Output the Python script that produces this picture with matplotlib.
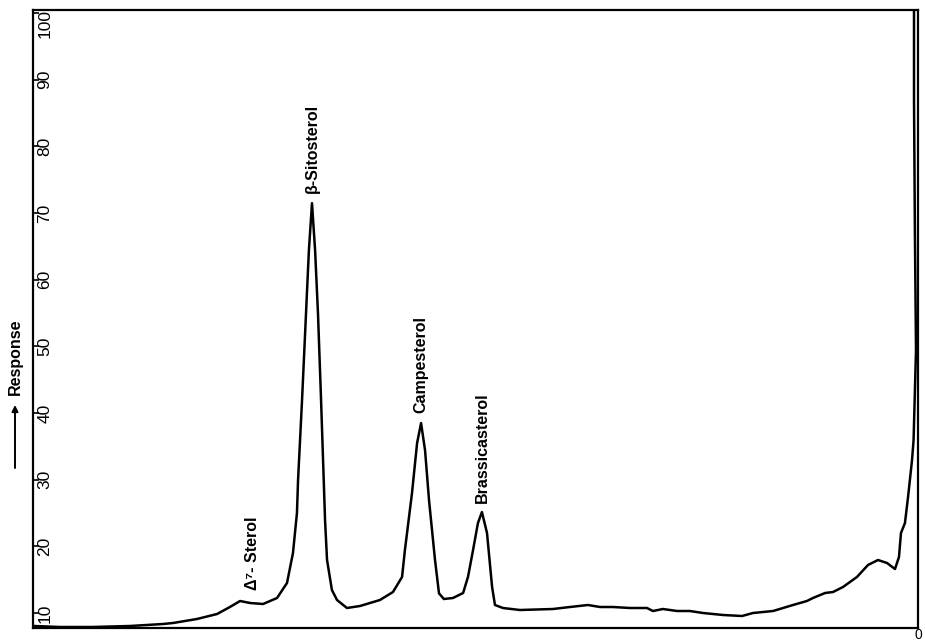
import matplotlib
matplotlib.use("Agg")
import matplotlib.pyplot as plt
import matplotlib.transforms as mtransforms

plt.rcParams['font.family'] = ['Liberation Sans', 'DejaVu Sans']

# Retention time (arbitrary units, injection at 0 on the right) and detector response
time = [39.95, 38.78, 37.33, 35.62, 34.12, 33.67, 32.59, 31.68, 31.10, 30.64,
        30.19, 29.60, 28.97, 28.52, 28.25, 28.07, 28.02, 27.84, 27.66, 27.53,
        27.39, 27.25, 27.12, 26.98, 26.89, 26.80, 26.71, 26.49, 26.26, 25.81,
        25.22, 24.32, 23.73, 23.32, 23.19, 22.87, 22.64, 22.46, 22.28, 22.10,
        21.83, 21.65, 21.43, 21.02, 20.56, 20.34, 20.11, 19.89, 19.71, 19.48,
        19.25, 19.12, 18.76, 17.99, 16.50, 15.73, 14.92, 14.37, 13.79, 13.02,
        12.25, 11.98, 11.53, 10.89, 10.31, 9.72, 8.81, 7.95, 7.46, 6.55,
        5.65, 5.02, 4.75, 4.20, 3.84, 3.39, 2.76, 2.26, 1.81, 1.40,
        1.04, 0.86, 0.77, 0.59, 0.45, 0.27, 0.20, 0.09, 0.14, 0.18, 0.18]
response = [8.05, 7.90, 7.90, 8.05, 8.35, 8.50, 9.10, 9.85, 10.90, 11.80,
            11.50, 11.35, 12.25, 14.50, 19.00, 25.00, 29.94, 41.93, 54.98, 64.42,
            71.47, 64.42, 54.98, 41.93, 32.94, 23.94, 17.95, 13.45, 11.95, 10.75,
            11.05, 11.95, 13.15, 15.40, 19.45, 28.00, 35.49, 38.49, 34.40, 26.90,
            17.95, 12.95, 12.10, 12.25, 13.00, 15.40, 19.45, 23.49, 25.14, 22.00,
            13.90, 11.20, 10.75, 10.45, 10.60, 10.90, 11.20, 10.90, 10.90, 10.75,
            10.75, 10.30, 10.60, 10.30, 10.30, 10.00, 9.70, 9.55, 10.00, 10.30,
            11.20, 11.80, 12.25, 13.00, 13.15, 13.90, 15.40, 17.20, 17.95, 17.50,
            16.60, 18.40, 22.00, 23.49, 27.39, 32.94, 35.94, 49.43, 66.97, 86.91, 104.0]

y_ticks = [10, 20, 30, 40, 50, 60, 70, 80, 90, 100]
y_tick_labels = ["10", "20", "30", "40", "50", "60", "70", "80", "90", "100"]

peak_names = ["Δ⁷- Sterol", "β-Sitosterol", "Campesterol", "Brassicasterol"]
peak_times = [30.10, 27.39, 22.46, 19.71]
peak_label_bottoms = [13.45, 73.0, 40.0, 26.5]

fig = plt.figure(figsize=(9.25, 6.42), dpi=100)
ax = fig.add_axes([33/925, 1 - 628/642, (918 - 33)/925, (628 - 10)/642])

ax.plot(time, response, color='black', lw=1.8, solid_joinstyle='round', clip_on=True)

ax.set_xlim(40.0, 0.0)
ax.set_ylim(7.75, 100.45)

for sp in ax.spines.values():
    sp.set_linewidth(1.6)

ax.set_xticks([0])
ax.set_xticklabels(["0"], fontsize=10)
ax.tick_params(axis='x', length=0, pad=0)

ax.set_yticks(y_ticks)
ax.set_yticklabels([])
ax.tick_params(axis='y', direction='in', length=4, width=1.2)

offset = mtransforms.ScaledTranslation(12/100, 0, fig.dpi_scale_trans)
trans = mtransforms.blended_transform_factory(ax.transAxes, ax.transData) + offset
for v, lab in zip(y_ticks, y_tick_labels):
    va = 'top' if v == 100 else 'center'
    yv = v + 0.6 if v == 100 else v
    ax.text(0, yv, lab, transform=trans, rotation=90, ha='center', va=va,
            fontsize=12.5, clip_on=False)

for name, t, b in zip(peak_names, peak_times, peak_label_bottoms):
    ax.text(t, b, name, rotation=90, ha='center', va='bottom', fontsize=11.5,
            fontweight='bold')

fig.text(15/925, 1 - 357/642, "Response", rotation=90, ha='center', va='center',
         fontsize=11.5, fontweight='bold')
ax.annotate("", xy=(15/925, 1 - 405/642), xytext=(15/925, 1 - 468/642),
            xycoords='figure fraction', textcoords='figure fraction',
            arrowprops=dict(arrowstyle='-|>', color='black', lw=1.4,
                            mutation_scale=9, shrinkA=0, shrinkB=0))

fig.savefig("out.png", dpi=100)
